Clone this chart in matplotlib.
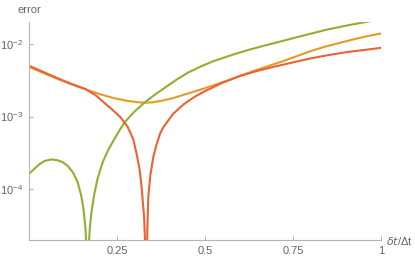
import numpy as np
import matplotlib
matplotlib.use("Agg")
import matplotlib.pyplot as plt
from matplotlib.ticker import NullLocator, FixedLocator

# values: x = dt/Dt, curves given as log10(error)
x_red = [0.0, 0.04, 0.08, 0.12, 0.16, 0.19, 0.216, 0.24, 0.26, 0.28, 0.296, 0.306, 0.314,
         0.320, 0.327, 0.331, 0.3333, 0.336, 0.339, 0.345, 0.353, 0.362, 0.372, 0.38, 0.39,
         0.41, 0.44, 0.47, 0.50, 0.55, 0.60, 0.65, 0.70, 0.75, 0.80, 0.85, 0.90, 0.95, 1.0]
lg_red = [-2.301, -2.385, -2.47, -2.55, -2.62, -2.71, -2.82, -2.92, -3.01, -3.14, -3.31, -3.52, -3.72,
          -3.98, -4.38, -4.9, -7.0, -4.6, -4.1, -3.8, -3.56, -3.39, -3.24, -3.16, -3.09,
          -2.96, -2.83, -2.73, -2.65, -2.535, -2.44, -2.37, -2.31, -2.255, -2.20, -2.155, -2.115, -2.085, -2.055]

x_orange = [0.0, 0.04, 0.08, 0.12, 0.16, 0.20, 0.24, 0.28, 0.31, 0.33, 0.35, 0.38, 0.41, 0.44,
            0.47, 0.50, 0.53, 0.56, 0.60, 0.64, 0.68, 0.72, 0.76, 0.80, 0.84, 0.88, 0.92, 0.96, 1.0]
lg_orange = [-2.315, -2.40, -2.48, -2.555, -2.625, -2.69, -2.745, -2.785, -2.803, -2.81, -2.805, -2.78,
             -2.745, -2.70, -2.655, -2.61, -2.56, -2.51, -2.44, -2.37, -2.305, -2.24, -2.17, -2.10,
             -2.04, -1.99, -1.94, -1.895, -1.857]

x_green = [0.0, 0.015, 0.03, 0.045, 0.064, 0.08, 0.095, 0.11, 0.125, 0.138, 0.148, 0.155, 0.16,
           0.1635, 0.1667, 0.1695, 0.173, 0.178, 0.185, 0.195, 0.21, 0.225, 0.241, 0.257, 0.273,
           0.30, 0.33, 0.36, 0.39, 0.42, 0.45, 0.486, 0.52, 0.55, 0.58, 0.62, 0.66, 0.70, 0.75,
           0.80, 0.85, 0.90, 0.95, 1.0]
lg_green = [-3.79, -3.72, -3.655, -3.61, -3.59, -3.60, -3.625, -3.68, -3.77, -3.90, -4.08, -4.28, -4.52,
            -4.8, -7.0, -4.8, -4.52, -4.30, -4.08, -3.85, -3.62, -3.46, -3.323, -3.19, -3.071,
            -2.93, -2.80, -2.69, -2.59, -2.49, -2.40, -2.316, -2.245, -2.195, -2.147, -2.088, -2.035,
            -1.985, -1.922, -1.86, -1.80, -1.75, -1.705, -1.66]

xticks = [0.25, 0.5, 0.75, 1]
xtick_labels = ["0.25", "0.5", "0.75", "1"]
yticks = [1e-4, 1e-3, 1e-2]

plt.rcParams['font.family'] = ['Liberation Sans', 'DejaVu Sans']
axcol = '#b4b4b4'
txtcol = '#666666'

fig = plt.figure(figsize=(4.15, 2.59), dpi=100)
ax = fig.add_axes([29/415, 1-240/259, 352/415, 218/259])

ax.plot(x_orange, 10.0**np.array(lg_orange), color='#E19C24', lw=1.5)
ax.plot(x_green, 10.0**np.array(lg_green), color='#8FB032', lw=1.5)
ax.plot(x_red, 10.0**np.array(lg_red), color='#EB6235', lw=1.5)

ax.set_yscale('log')
ax.set_xlim(0, 1)
ax.set_ylim(2.0e-5, 2.0e-2)

ax.set_xticks(xticks)
ax.set_xticklabels(xtick_labels)
ax.yaxis.set_major_locator(FixedLocator(yticks))
ax.yaxis.set_minor_locator(NullLocator())

for s in ['top', 'right']:
    ax.spines[s].set_visible(False)
for s in ['left', 'bottom']:
    ax.spines[s].set_color(axcol)
    ax.spines[s].set_linewidth(0.8)

ax.tick_params(direction='in', length=3, width=0.8, color=axcol,
               labelcolor=txtcol, labelsize=8, pad=4)

fig.text(17/415, 1-10/259, 'error', color=txtcol, fontsize=8, va='center', ha='left')
fig.text(386/415, 1-241/259, r'$\delta t$/Δt', color=txtcol, fontsize=8, va='center', ha='left')

fig.savefig('out.png', dpi=100)
